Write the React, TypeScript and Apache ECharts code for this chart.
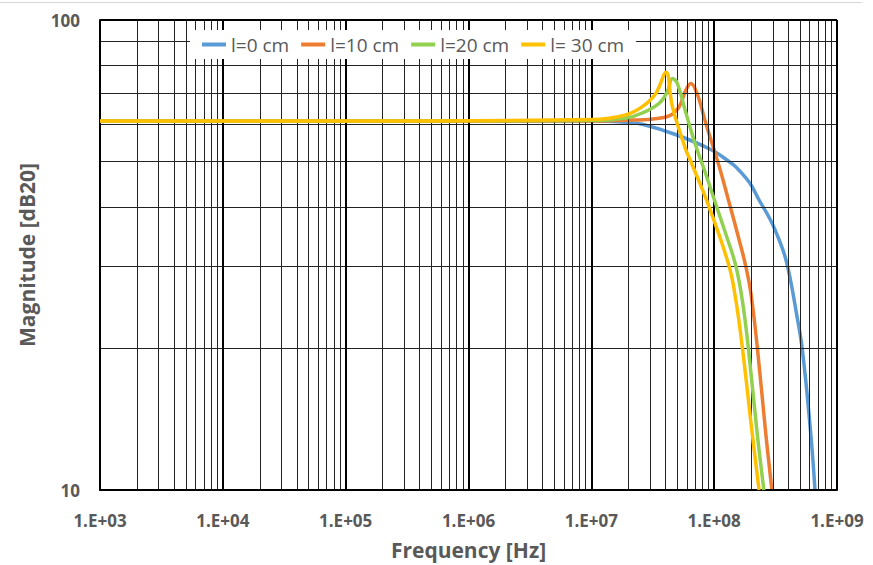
import React, { useEffect, useRef } from "react";
import * as echarts from "echarts";

// Frequencies [Hz] and magnitudes for each cable length
const seriesNames = ["l=0 cm", "l=10 cm", "l=20 cm", "l= 30 cm"];
const seriesColors = ["#5B9BD5", "#ED7D31", "#92D050", "#FFC000"];

const l0: [number, number][] = [
  [1e3, 61], [1e5, 61], [1e7, 61], [1.93e7, 60.6], [2.6e7, 60], [4.9e7, 57],
  [9.55e7, 52.9], [1.32e8, 50], [1.5e8, 48.7], [1.95e8, 45], [2.32e8, 41.4],
  [2.88e8, 37.5], [3.39e8, 34], [3.8e8, 31.2], [4.2e8, 27.8], [4.62e8, 24.2],
  [5.22e8, 19.9], [6.11e8, 13.2], [6.62e8, 10],
];
const l10: [number, number][] = [
  [1e3, 61], [1e5, 61], [1e7, 61], [2e7, 61.2], [3.16e7, 61.6], [4.3e7, 62.5],
  [5.19e7, 65.4], [5.89e7, 71], [6.46e7, 73.3], [7.24e7, 69.9], [8.55e7, 60.3],
  [1.1e8, 48.7], [1.32e8, 41], [1.6e8, 34], [1.81e8, 29.9], [2.0e8, 26],
  [2.25e8, 20], [2.63e8, 13.2], [2.95e8, 10],
];
const l20: [number, number][] = [
  [1e3, 61], [1e5, 61], [1e7, 61.1], [1.93e7, 61.9], [2.6e7, 63.4], [3.57e7, 66.5],
  [4.17e7, 70.5], [4.57e7, 75.1], [5.0e7, 73.4], [5.89e7, 63.4], [7.08e7, 54],
  [8.5e7, 47.2], [1.05e8, 40], [1.26e8, 34.7], [1.5e8, 30], [1.7e8, 25.2],
  [1.9e8, 20], [2.24e8, 13.2], [2.54e8, 10],
];
const l30: [number, number][] = [
  [1e3, 61], [1e5, 61], [1.02e7, 61.4], [1.9e7, 62.8], [2.6e7, 65.4], [3.35e7, 69.8],
  [4.05e7, 77.4], [4.57e7, 65.4], [5.89e7, 52.9], [6.46e7, 50], [9.1e7, 40],
  [1.32e8, 30], [1.5e8, 25.4], [1.7e8, 20], [2.04e8, 13.2], [2.32e8, 10],
];
const seriesData = [l0, l10, l20, l30];

const xMajor = [1e3, 1e4, 1e5, 1e6, 1e7, 1e8, 1e9];
const xMinorMult = [2, 3, 4, 5, 6, 7, 8, 9];
const yMinor = [20, 30, 40, 50, 60, 70, 80, 90];
const yMajor = [10, 100];

const FONT = "'Open Sans', sans-serif";

export default function App() {
  const ref = useRef<HTMLDivElement>(null);
  useEffect(() => {
    document.body.style.margin = "0";
    if (!ref.current) return;
    const chart = echarts.init(ref.current, undefined, { renderer: "svg" });

    const gridLines: any[] = [];
    xMajor.slice(0, -1).forEach((d) =>
      xMinorMult.forEach((m) =>
        gridLines.push({ xAxis: d * m, lineStyle: { color: "#222", width: 1, type: "solid" } })
      )
    );
    yMinor.forEach((v) =>
      gridLines.push({ yAxis: v, lineStyle: { color: "#222", width: 1, type: "solid" } })
    );
    xMajor.forEach((d) =>
      gridLines.push({ xAxis: d, lineStyle: { color: "#000", width: 2, type: "solid" } })
    );
    yMajor.forEach((v) =>
      gridLines.push({ yAxis: v, lineStyle: { color: "#000", width: 2, type: "solid" } })
    );

    chart.setOption({
      animation: false,
      backgroundColor: "#fff",
      grid: { left: 100, right: 36, top: 20, bottom: 75 },
      graphic: [
        {
          type: "line",
          shape: { x1: 0, y1: 2.5, x2: 862, y2: 2.5 },
          style: { stroke: "#d9d9d9", lineWidth: 1 },
        },
      ],
      legend: {
        data: seriesNames,
        left: 190,
        top: 30,
        z: 20,
        padding: [5, 12],
        backgroundColor: "#fff",
        icon: "rect",
        itemWidth: 24,
        itemHeight: 4,
        itemGap: 12,
        textStyle: { fontFamily: FONT, fontSize: 19, color: "#595959" },
      },
      xAxis: {
        type: "log",
        logBase: 10,
        min: 1e3,
        max: 1e9,
        splitNumber: 6,
        axisLine: { show: true, lineStyle: { color: "#000", width: 2 } },
        axisTick: { show: false },
        splitLine: { show: false },
        axisLabel: {
          margin: 22,
          fontFamily: FONT,
          fontSize: 17,
          fontWeight: "bold",
          color: "#595959",
          formatter: (v: number) => {
            const e = Math.round(Math.log10(v));
            return "1.E+" + (e < 10 ? "0" + e : String(e));
          },
        },
        name: "Frequency [Hz]",
        nameLocation: "middle",
        nameGap: 49,
        nameTextStyle: { fontFamily: FONT, fontSize: 21, fontWeight: "bold", color: "#595959" },
      },
      yAxis: {
        type: "log",
        logBase: 10,
        min: 10,
        max: 100,
        axisLine: { show: true, lineStyle: { color: "#000", width: 2 } },
        axisTick: { show: false },
        splitLine: { show: false },
        axisLabel: {
          margin: 20,
          fontFamily: FONT,
          fontSize: 17,
          fontWeight: "bold",
          color: "#595959",
        },
        name: "Magnitude [dB20]",
        nameLocation: "middle",
        nameGap: 63,
        nameTextStyle: { fontFamily: FONT, fontSize: 21, fontWeight: "bold", color: "#595959" },
      },
      series: [
        {
          name: "grid",
          type: "line",
          data: [[1e3, 61]],
          symbol: "none",
          lineStyle: { opacity: 0 },
          silent: true,
          z: 1,
          markLine: {
            silent: true,
            symbol: ["none", "none"],
            label: { show: false },
            emphasis: { disabled: true },
            data: gridLines,
          },
        },
        ...seriesData.map((d, i) => ({
          name: seriesNames[i],
          type: "line",
          data: d,
          symbol: "none",
          smooth: 0.4,
          z: 3 + i,
          lineStyle: { color: seriesColors[i], width: 3.5 },
          itemStyle: { color: seriesColors[i] },
        })),
      ],
    });
    return () => chart.dispose();
  }, []);
  return <div ref={ref} style={{ width: 873, height: 565 }} />;
}
